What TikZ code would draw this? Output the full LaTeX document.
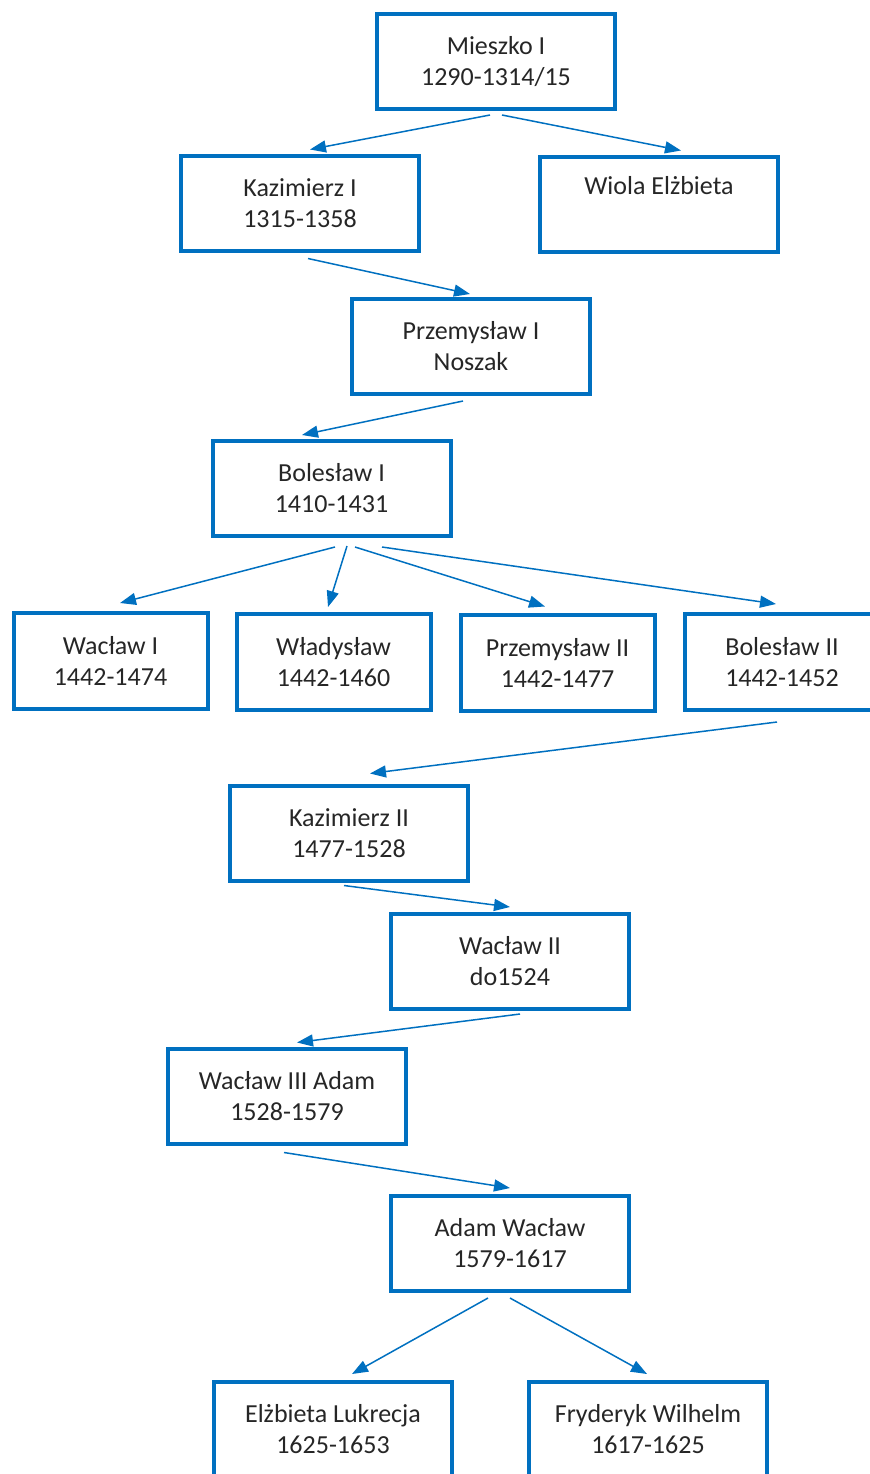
\documentclass[tikz,border=0pt]{standalone}
\usepackage{fontspec}
\setmainfont{Carlito}
\usetikzlibrary{arrows.meta}
\definecolor{boxblue}{HTML}{0070C0}
\begin{document}
\begin{tikzpicture}[x=0.5pt,y=-0.5pt,
    box/.style={draw=boxblue, line width=2pt, minimum width=119pt,
      minimum height=47.5pt, inner sep=0pt, align=center,
      text=black!85, font=\fontsize{13}{15.5}\selectfont},
    smallbox/.style={box, minimum width=97pt, minimum height=48pt},
    link/.style={draw=boxblue, line width=0.75pt,
      -{Triangle[length=8pt,width=6pt]}}]
  \useasboundingbox (0,0) rectangle (869,1474);

  % generations, top to bottom
  \node[box] (mieszko) at (496,61.5) {Mieszko I\\1290-1314/15};
  \node[box] (kaz1) at (300,203) {Kazimierz I\\1315-1358};
  \node[box] (wiola) at (659,204) {Wiola Elżbieta\\[3.5pt]\mbox{}};
  \node[box] (przem1) at (471,346.5) {Przemysław I\\Noszak};
  \node[box] (bol1) at (331.5,488.5) {Bolesław I\\1410-1431};

  \node[smallbox] (wac1) at (110.5,661) {Wacław I\\1442-1474};
  \node[smallbox] (wlad) at (333.5,662) {Władysław\\1442-1460};
  \node[smallbox] (przem2) at (557.5,662.5) {Przemysław II\\1442-1477};
  \node[smallbox] (bol2) at (782,662) {Bolesław II\\1442-1452};

  \node[box] (kaz2) at (349,833) {Kazimierz II\\1477-1528};
  \node[box] (wac2) at (510,961.5) {Wacław II\\do1524};
  \node[box] (wac3) at (287,1096) {Wacław III Adam\\1528-1579};
  \node[box] (adam) at (510,1243.5) {Adam Wacław\\1579-1617};
  \node[box] (elz) at (333,1429.5) {Elżbieta Lukrecja\\1625-1653};
  \node[box] (fry) at (648,1429.5) {Fryderyk Wilhelm\\1617-1625};

  % descent
  \draw[link] ([shift={(-6,4)}]mieszko.south) -- ([shift={(10,-4)}]kaz1.north);
  \draw[link] ([shift={(6,4)}]mieszko.south) -- ([shift={(22,-4)}]wiola.north);
  \draw[link] ([shift={(8,6)}]kaz1.south) -- ([shift={(-1,-3)}]przem1.north);
  \draw[link] ([shift={(-8,5)}]przem1.south) -- ([shift={(-29.5,-4)}]bol1.north);

  \draw[link] ([shift={(3.5,9)}]bol1.south) -- ([shift={(9.5,-8)}]wac1.north);
  \draw[link] ([shift={(15.5,8)}]bol1.south) -- ([shift={(-5.5,-5)}]wlad.north);
  \draw[link] ([shift={(23.5,9)}]bol1.south) -- ([shift={(-12.5,-6)}]przem2.north);
  \draw[link] ([shift={(50.5,9)}]bol1.south) -- ([shift={(-6,-8)}]bol2.north);

  \draw[link] ([shift={(-5,10)}]bol2.south) -- ([shift={(21,-10)}]kaz2.north);
  \draw[link] ([shift={(-5,3)}]kaz2.south) -- ([shift={(0,-5)}]wac2.north);
  \draw[link] ([shift={(10,3)}]wac2.south) -- ([shift={(10,-4)}]wac3.north);
  \draw[link] ([shift={(-3,7)}]wac3.south) -- ([shift={(0,-6)}]adam.north);
  \draw[link] ([shift={(-22,5)}]adam.south) -- ([shift={(19,-6)}]elz.north);
  \draw[link] ([shift={(0,5)}]adam.south) -- ([shift={(-1,-6)}]fry.north);
\end{tikzpicture}
\end{document}
